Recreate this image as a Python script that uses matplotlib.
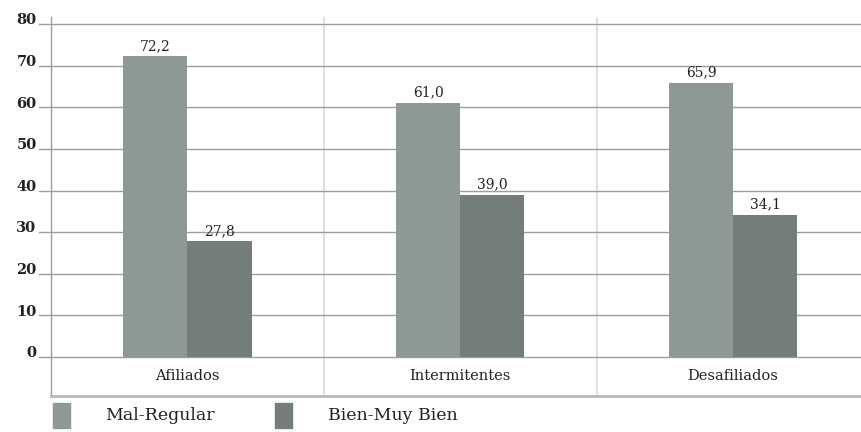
import matplotlib.pyplot as plt
from matplotlib.patches import Rectangle

categories = ["Afiliados", "Intermitentes", "Desafiliados"]
series_names = ["Mal-Regular", "Bien-Muy Bien"]
mal_regular = [72.2, 61.0, 65.9]
bien_muy_bien = [27.8, 39.0, 34.1]
y_ticks = [0, 10, 20, 30, 40, 50, 60, 70, 80]

colors = ["#8e9996", "#757d7a"]
grid_color = "#9a9f9d"
sep_color = "#d8dcdb"

W, H = 861, 432
fig = plt.figure(figsize=(W / 100, H / 100), dpi=100)

# axes box in pixel coordinates: left 51, right 861, top 17, bottom 396
left, right, top, bottom = 51, 861, 17, 396
ax = fig.add_axes([left / W, 1 - bottom / H, (right - left) / W, (bottom - top) / H])

px_per_unit = (357 - 24) / 80.0
y_lo = -(bottom - 357) / px_per_unit
y_hi = (357 - top) / px_per_unit
ax.set_ylim(y_lo, y_hi)
ax.set_xlim(-0.5, 2.469)

for s in ax.spines.values():
    s.set_visible(False)
ax.set_xticks([])
ax.set_yticks([])

serif = ["DejaVu Serif"]

# horizontal gridlines, extended left past the axis like ticks
for t in y_ticks:
    ax.plot([-0.544, 2.469], [t, t], color=grid_color, lw=1.0, clip_on=False, zorder=1)
    ax.text(-0.553, t + 0.9, f"{t}", ha="right", va="center", fontsize=10.5,
            fontweight="bold", family=serif, color="#222222")

# category separators
for xs in [0.5, 1.5]:
    ax.plot([xs, xs], [y_lo, y_hi], color=sep_color, lw=1.2, zorder=0.5)

# left axis line and bottom line
ax.plot([-0.5, -0.5], [y_lo, y_hi], color=grid_color, lw=1.0, clip_on=False, zorder=3)
ax.plot([-0.5, 2.469], [y_lo, y_lo], color="#b5b9b8", lw=2.0, clip_on=False, zorder=3)

bw = 0.235
x = list(range(len(categories)))
for i, (vals, c) in enumerate(zip([mal_regular, bien_muy_bien], colors)):
    offs = (i - 0.5) * bw
    ax.bar([xi + offs for xi in x], vals, width=bw, color=c, zorder=2)
    for xi, v in zip(x, vals):
        ax.text(xi + offs, v + 0.8, f"{v:.1f}".replace(".", ","), ha="center",
                va="bottom", fontsize=10, family=serif, color="#222222")

for xi, cat in zip(x, categories):
    ax.text(xi, (y_lo + 0) / 2, cat, ha="center", va="center", fontsize=10.5,
            family=serif, color="#222222")

# legend along the bottom
leg_y = 1 - 416 / H
for (sx, tx), name, c in zip([(53, 105), (275, 328)], series_names, colors):
    fig.patches.append(Rectangle((sx / W, 1 - 428 / H), 17 / W, 25 / H,
                                 transform=fig.transFigure, color=c))
    fig.text(tx / W, leg_y, name, ha="left", va="center", fontsize=12.5,
             family=serif, color="#222222")

fig.savefig("out.png", dpi=100)
